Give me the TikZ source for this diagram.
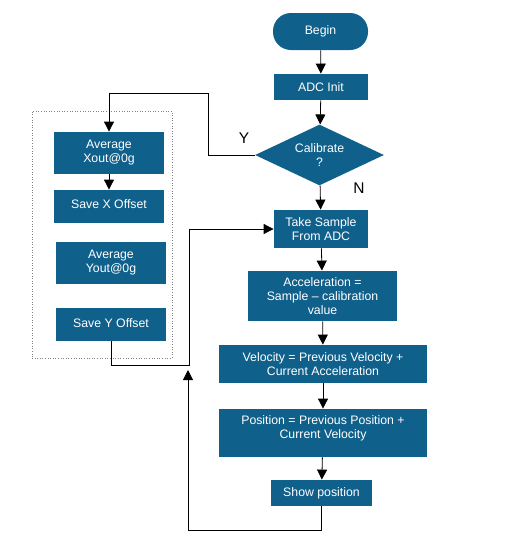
\documentclass[tikz,border=0pt]{standalone}
\usepackage{fontspec}
\setmainfont{Liberation Sans}
\usetikzlibrary{arrows.meta,shapes.geometric}
\usetikzlibrary{positioning}
\definecolor{adcblue}{RGB}{16,96,140}

\begin{document}
\begin{tikzpicture}[x=1pt,y=-1pt,>={Triangle[length=10pt,width=10pt]},line width=0.8pt,
  block/.style={rectangle, fill=adcblue, text=white, align=center, inner sep=0pt,
    font=\fontsize{12.3}{14}\selectfont},
  yn/.style={font=\fontsize{15.5}{16}\selectfont}]
\useasboundingbox (0,0) rectangle (504,536);
% main column
\node[block, rounded corners=18pt, minimum width=95pt, minimum height=37pt] (begin) at (320.5,31.5) {Begin};
\node[block, minimum width=94pt, minimum height=26pt] (init) at (321,87) {ADC Init};
\node[block, diamond, aspect=2.1, minimum width=129pt, minimum height=61pt] (calib) at (319.5,155) {Calibrate\\?};
\node[block, minimum width=94pt, minimum height=38pt] (take) at (321,229) {Take Sample\\From ADC};
\node[block, minimum width=149pt, minimum height=50pt] (accel) at (322.5,296) {Acceleration =\\Sample -- calibration\\value};
\node[block, minimum width=208pt, minimum height=38pt] (vel) at (323,364) {Velocity = Previous Velocity +\\Current Acceleration};
\node[block, minimum width=208pt, minimum height=48pt] (pos) at (323,433) {Position = Previous Position +\\Current Velocity\\[-3pt]\mbox{}};
\node[block, minimum width=101pt, minimum height=26pt] (show) at (321.5,493) {Show position};
% calibration branch
\node[draw=gray, dotted, line width=0.6pt, minimum width=140pt, minimum height=247pt] (calbox) at (102,234.5) {};
\node[block, minimum width=110pt, minimum height=42pt] (avgx) at (109,153) {Average\\Xout@0g};
\node[block, minimum width=110pt, minimum height=33pt] (savex) at (109,206.5) {\raisebox{4.5pt}{Save X Offset}};
\node[block, minimum width=110pt, minimum height=42pt] (avgy) at (111,263) {Average\\Yout@0g};
\node[block, minimum width=110pt, minimum height=33pt] (savey) at (111,324.5) {\raisebox{3.5pt}{Save Y Offset}};
\node[yn] (ylabel) at (244,138) {Y};
\node[yn] (nlabel) at (359,188) {N};
\coordinate (ybend) at (208,93);
\coordinate (join) at (189,365);
\coordinate (loopbot) at (188,530);
\coordinate (loopend) at (188,370);
\draw[->] (begin) -- (init);
\draw[->] (init) -- (calib);
\draw[->] (calib) -- (take);
\draw[->] (take) -- (accel);
\draw[->] (accel) -- (vel);
\draw[->] (vel) -- (pos);
\draw[->] (pos) -- (show);
\draw[->] (calib.west) -| (ybend) -| (avgx.north);
\draw[->] (avgx) -- (savex);
\draw[->] (savey.south) |- (join) |- (take.west);
\draw[->] (show.south) |- (loopbot) -- (loopend);
\end{tikzpicture}
\end{document}
